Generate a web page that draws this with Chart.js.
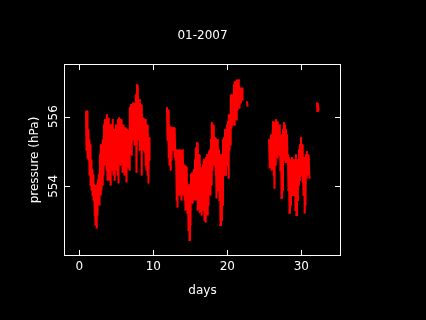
<!DOCTYPE html>
<html>
<head>
<meta charset="utf-8">
<script src="https://cdn.jsdelivr.net/npm/chart.js@4.4.0/dist/chart.umd.min.js"></script>
<style>
  html, body { margin: 0; padding: 0; background: #000; }
  canvas { display: block; }
</style>
</head>
<body>
<canvas id="chart" width="426" height="320"></canvas>
<script>
// 01-2007 pressure record

const chartTitle = '01-2007';
const xTitle = 'days';
const yTitle = 'pressure (hPa)';
const xTicks = [0, 10, 20, 30];
const yTicks = [554, 556];

// first block of readings (days 1 - 9.5)
const run1Days = [
  0.90, 0.97, 1.04, 1.11, 1.18, 1.25, 1.31, 1.38, 1.45, 1.52,
  1.58, 1.65, 1.72, 1.79, 1.85, 1.92, 1.99, 2.06, 2.12, 2.19,
  2.26, 2.33, 2.39, 2.46, 2.53, 2.60, 2.66, 2.73, 2.80, 2.87,
  2.93, 3.00, 3.07, 3.14, 3.20, 3.27, 3.34, 3.41, 3.47, 3.54,
  3.61, 3.68, 3.74, 3.81, 3.88, 3.95, 4.01, 4.08, 4.15, 4.22,
  4.28, 4.35, 4.42, 4.49, 4.55, 4.62, 4.69, 4.76, 4.82, 4.89,
  4.96, 5.03, 5.10, 5.17, 5.23, 5.30, 5.37, 5.44, 5.50, 5.57,
  5.64, 5.71, 5.77, 5.84, 5.91, 5.98, 6.04, 6.11, 6.18, 6.25,
  6.31, 6.38, 6.45, 6.52, 6.58, 6.65, 6.72, 6.79, 6.85, 6.92,
  6.99, 7.06, 7.12, 7.19, 7.26, 7.33, 7.39, 7.46, 7.53, 7.60,
  7.66, 7.73, 7.80, 7.87, 7.93, 8.00, 8.07, 8.14, 8.20, 8.27,
  8.34, 8.41, 8.47, 8.54, 8.61, 8.68, 8.74, 8.81, 8.88, 8.95,
  9.01, 9.08, 9.15, 9.22, 9.28, 9.35, 9.42, 9.49
];
const run1Hpa = [
  556.14, 555.04, 556.16, 554.82, 555.62, 554.76, 555.33, 554.33, 555.19, 554.04,
  554.76, 553.90, 554.47, 553.75, 554.33, 553.61, 554.04, 553.18, 553.95, 552.89,
  553.90, 552.81, 554.04, 553.18, 554.18, 553.61, 554.33, 553.47, 554.90, 553.75,
  555.19, 553.90, 555.04, 554.04, 555.33, 554.33, 555.76, 554.61, 555.91, 554.76,
  555.85, 554.47, 556.05, 554.18, 555.96, 554.61, 555.62, 554.18, 555.76, 554.04,
  555.76, 554.76, 555.62, 554.47, 555.91, 554.33, 555.47, 554.18, 555.62, 554.61,
  555.76, 554.47, 555.62, 554.33, 555.91, 554.10, 555.96, 554.76, 555.76, 554.61,
  555.91, 554.90, 555.68, 554.41, 555.76, 554.76, 555.62, 554.33, 555.68, 554.61,
  555.47, 554.13, 555.62, 554.76, 555.56, 554.53, 555.33, 554.47, 556.25, 555.04,
  556.34, 554.90, 556.34, 555.33, 556.39, 555.62, 556.25, 555.19, 556.37, 555.47,
  556.62, 554.41, 556.91, 555.33, 556.77, 555.62, 556.19, 555.04, 556.48, 555.47,
  556.34, 554.33, 556.05, 555.19, 555.96, 555.04, 555.91, 554.99, 555.76, 554.61,
  555.91, 554.47, 555.76, 554.33, 555.47, 554.10, 555.39, 554.76
];

// second block (days 12 - 22)
const run2Days = [
  11.85, 11.92, 11.99, 12.06, 12.12, 12.19, 12.26, 12.33, 12.39, 12.46,
  12.53, 12.60, 12.66, 12.73, 12.80, 12.87, 12.93, 13.00, 13.07, 13.14,
  13.20, 13.27, 13.34, 13.41, 13.47, 13.54, 13.61, 13.68, 13.74, 13.81,
  13.88, 13.95, 14.01, 14.08, 14.15, 14.22, 14.28, 14.35, 14.42, 14.49,
  14.55, 14.62, 14.69, 14.76, 14.82, 14.89, 14.96, 15.03, 15.10, 15.17,
  15.23, 15.30, 15.37, 15.44, 15.50, 15.57, 15.64, 15.71, 15.77, 15.84,
  15.91, 15.98, 16.04, 16.11, 16.18, 16.25, 16.31, 16.38, 16.45, 16.52,
  16.58, 16.65, 16.72, 16.79, 16.85, 16.92, 16.99, 17.06, 17.12, 17.19,
  17.26, 17.33, 17.39, 17.46, 17.53, 17.60, 17.66, 17.73, 17.80, 17.87,
  17.93, 18.00, 18.07, 18.14, 18.20, 18.27, 18.34, 18.41, 18.47, 18.54,
  18.61, 18.68, 18.74, 18.81, 18.88, 18.95, 19.01, 19.08, 19.15, 19.22,
  19.28, 19.35, 19.42, 19.49, 19.55, 19.62, 19.69, 19.76, 19.82, 19.89,
  19.96, 20.03, 20.10, 20.17, 20.23, 20.30, 20.37, 20.44, 20.50, 20.57,
  20.64, 20.71, 20.77, 20.84, 20.91, 20.98, 21.04, 21.11, 21.18, 21.25,
  21.31, 21.38, 21.45, 21.52, 21.58, 21.65, 21.72, 21.79, 21.85, 21.92,
  21.99, 22.06
];
const run2Hpa = [
  556.25, 555.33, 556.19, 554.84, 555.76, 554.61, 555.71, 554.47, 555.62, 554.76,
  555.68, 555.04, 555.62, 555.04, 555.68, 554.84, 555.47, 554.76, 555.04, 553.61,
  554.96, 553.41, 555.04, 554.04, 554.90, 553.75, 555.04, 553.90, 554.76, 553.61,
  554.90, 554.04, 555.04, 553.75, 554.61, 553.61, 554.47, 553.32, 554.56, 553.61,
  554.33, 553.24, 554.04, 552.75, 553.90, 552.46, 554.04, 552.89, 554.33, 553.61,
  554.38, 553.52, 554.24, 553.61, 554.47, 553.75, 554.76, 553.61, 555.10, 553.90,
  555.25, 553.32, 555.04, 553.75, 554.90, 553.26, 554.61, 553.47, 554.53, 553.18,
  554.47, 553.61, 554.61, 553.32, 554.76, 553.03, 554.61, 552.98, 554.82, 553.61,
  554.90, 553.18, 554.76, 553.47, 554.99, 553.90, 555.04, 553.75, 555.33, 554.04,
  555.82, 554.47, 555.76, 554.76, 555.62, 554.61, 555.39, 554.33, 555.33, 553.67,
  555.19, 554.04, 555.33, 553.90, 555.04, 553.61, 554.76, 552.89, 554.90, 553.03,
  554.61, 553.47, 555.33, 554.33, 555.39, 554.47, 555.62, 554.33, 555.47, 554.61,
  555.76, 554.76, 555.85, 554.24, 556.05, 555.04, 555.96, 555.19, 556.62, 555.68,
  556.48, 555.76, 556.62, 555.91, 556.91, 555.76, 557.00, 556.05, 556.77, 555.91,
  557.05, 556.19, 557.00, 556.48, 557.05, 556.25, 556.82, 556.39, 556.77, 556.62,
  556.82, 556.48
];

// third block (days 25.6 - 31)
const run3Days = [
  25.64, 25.71, 25.77, 25.84, 25.91, 25.98, 26.04, 26.11, 26.18, 26.25,
  26.31, 26.38, 26.45, 26.52, 26.58, 26.65, 26.72, 26.79, 26.85, 26.92,
  26.99, 27.06, 27.12, 27.19, 27.26, 27.33, 27.39, 27.46, 27.53, 27.60,
  27.66, 27.73, 27.80, 27.87, 27.93, 28.00, 28.07, 28.14, 28.20, 28.27,
  28.34, 28.41, 28.47, 28.54, 28.61, 28.68, 28.74, 28.81, 28.88, 28.95,
  29.01, 29.08, 29.15, 29.22, 29.28, 29.35, 29.42, 29.49, 29.55, 29.62,
  29.69, 29.76, 29.82, 29.89, 29.96, 30.03, 30.10, 30.17, 30.23, 30.30,
  30.37, 30.44, 30.50, 30.57, 30.64, 30.71, 30.77, 30.84, 30.91, 30.98,
  31.04, 31.11
];
const run3Hpa = [
  555.33, 554.53, 555.19, 554.61, 555.47, 554.47, 555.33, 554.76, 555.85, 554.33,
  555.68, 553.95, 555.76, 554.61, 555.91, 555.04, 555.85, 554.82, 555.68, 555.04,
  555.62, 554.90, 555.76, 554.47, 555.47, 553.67, 555.33, 553.90, 555.62, 554.76,
  555.82, 554.90, 555.76, 554.70, 555.62, 555.04, 555.47, 554.76, 554.90, 553.90,
  554.82, 553.24, 554.61, 553.47, 554.76, 553.75, 554.82, 554.04, 554.61, 553.75,
  554.76, 554.18, 554.47, 553.32, 554.90, 553.18, 554.61, 553.61, 554.76, 554.04,
  555.04, 554.18, 555.19, 554.33, 555.39, 554.47, 555.19, 554.13, 554.76, 553.75,
  554.82, 553.24, 554.61, 553.47, 554.90, 554.24, 554.99, 554.33, 554.90, 554.47,
  554.76, 554.24
];

// two short isolated bursts
const loneADays = [22.66, 22.73];
const loneAHpa = [556.42, 556.31];
const loneBDays = [32.12, 32.19, 32.26, 32.33];
const loneBHpa = [556.39, 556.16, 556.37, 556.19];

const FONT = '12px "DejaVu Sans"';
const RED = '#ff0000';

function toPoints(days, hpa) {
  return days.map((d, i) => ({ x: d, y: hpa[i] }));
}

function runDataset(days, hpa) {
  return {
    data: toPoints(days, hpa),
    showLine: true,
    borderColor: RED,
    backgroundColor: RED,
    borderWidth: 2,
    pointRadius: 1.2,
    pointStyle: 'rect',
    pointBorderWidth: 0,
    tension: 0
  };
}

// background, box, inner ticks and all texts
const framePlugin = {
  id: 'frame',
  beforeDraw(chart) {
    const ctx = chart.ctx;
    ctx.save();
    ctx.fillStyle = '#000';
    ctx.fillRect(0, 0, chart.width, chart.height);
    ctx.restore();
  },
  afterDraw(chart) {
    const { ctx, chartArea: a } = chart;
    const xs = chart.scales.x;
    const ys = chart.scales.y;
    const cx = (a.left + a.right) / 2;
    ctx.save();
    ctx.strokeStyle = '#fff';
    ctx.lineWidth = 1;
    ctx.strokeRect(a.left + 0.5, a.top + 0.5, a.right - a.left - 1, a.bottom - a.top - 1);

    ctx.beginPath();
    for (const v of xTicks) {
      const px = Math.round(xs.getPixelForValue(v)) + 0.5;
      ctx.moveTo(px, a.bottom);
      ctx.lineTo(px, a.bottom - 6);
      ctx.moveTo(px, a.top);
      ctx.lineTo(px, a.top + 6);
    }
    for (const v of yTicks) {
      const py = Math.round(ys.getPixelForValue(v)) + 0.5;
      ctx.moveTo(a.left, py);
      ctx.lineTo(a.left + 6, py);
      ctx.moveTo(a.right, py);
      ctx.lineTo(a.right - 6, py);
    }
    ctx.stroke();

    ctx.fillStyle = '#fff';
    ctx.font = FONT;
    ctx.textAlign = 'center';
    ctx.textBaseline = 'middle';
    ctx.fillText(chartTitle, cx, 36);
    for (const v of xTicks) {
      ctx.fillText(String(v), xs.getPixelForValue(v), 267);
    }
    ctx.fillText(xTitle, cx, 291);

    for (const v of yTicks) {
      ctx.save();
      ctx.translate(54, ys.getPixelForValue(v));
      ctx.rotate(-Math.PI / 2);
      ctx.fillText(String(v), 0, 0);
      ctx.restore();
    }
    ctx.save();
    ctx.translate(35, (a.top + a.bottom) / 2);
    ctx.rotate(-Math.PI / 2);
    ctx.fillText(yTitle, 0, 0);
    ctx.restore();
    ctx.restore();
  }
};

new Chart(document.getElementById('chart'), {
  type: 'scatter',
  data: {
    datasets: [
      runDataset(run1Days, run1Hpa),
      runDataset(run2Days, run2Hpa),
      runDataset(run3Days, run3Hpa),
      runDataset(loneADays, loneAHpa),
      runDataset(loneBDays, loneBHpa)
    ]
  },
  options: {
    responsive: false,
    animation: false,
    devicePixelRatio: 1,
    layout: { padding: { left: 64, top: 64, right: 85, bottom: 64 } },
    scales: {
      x: { type: 'linear', display: false, min: -2.07, max: 35.37 },
      y: { type: 'linear', display: false, min: 552.0, max: 557.51 }
    },
    plugins: {
      legend: { display: false },
      title: { display: false },
      tooltip: { enabled: false }
    }
  },
  plugins: [framePlugin]
});
</script>
</body>
</html>
